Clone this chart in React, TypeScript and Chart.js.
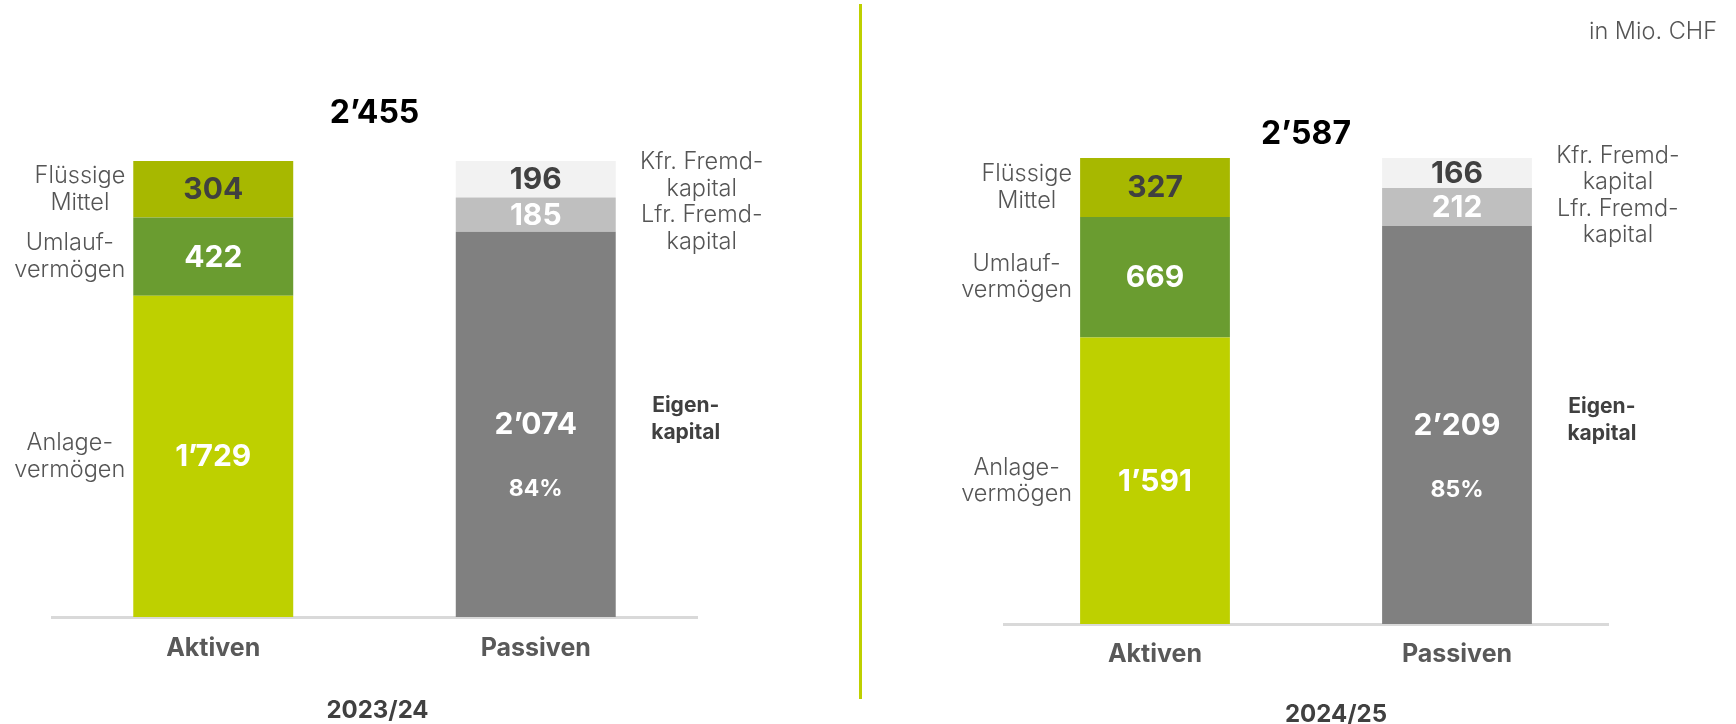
import React, { useEffect, useRef } from "react";
import { Chart, registerables } from "chart.js";
Chart.register(...registerables);

// ---- data ----
const categories = ["Aktiven", "Passiven"];
const years = ["2023/24", "2024/25"];
// 2023/24 (bottom -> top of the stack)
const layer1_2324 = [1729, 2074]; // Anlagevermögen / Eigenkapital
const layer2_2324 = [422, 185]; // Umlaufvermögen / Lfr. Fremdkapital
const layer3_2324 = [304, 196]; // Flüssige Mittel / Kfr. Fremdkapital
// 2024/25
const layer1_2425 = [1591, 2209];
const layer2_2425 = [669, 212];
const layer3_2425 = [327, 166];
const totals = [2455, 2587];
const aktivenLabels = [["Anlage-", "vermögen"], ["Umlauf-", "vermögen"], ["Flüssige", "Mittel"]];
const passivenLabels = [["Eigen-", "kapital"], ["Lfr. Fremd-", "kapital"], ["Kfr. Fremd-", "kapital"]];
const unitLabel = "in Mio. CHF";

// ---- styles ----
const FONT = "Inter";
const layerColors = [
  ["#bed000", "#808080"],
  ["#6a9c30", "#bfbfbf"],
  ["#a7b800", "#f2f2f2"],
];
const valueColors = ["#ffffff", "#ffffff", "#404040"];

function fmt(n: number): string {
  if (n >= 1000) return `${Math.floor(n / 1000)}\u2019${String(n % 1000).padStart(3, "0")}`;
  return String(n);
}

type Cfg = {
  total: number;
  totalOffset: number;
  unit: boolean;
  year: string;
  yearDx: number;
  yearY: number;
};

function makePlugin(cfg: Cfg) {
  return {
    id: "labels",
    afterDatasetsDraw(chart: any) {
      const ctx = chart.ctx as CanvasRenderingContext2D;
      ctx.save();
      ctx.textBaseline = "middle";
      const lh = 26.5;
      const drawBlock = (lines: string[], cx: number, cy: number, font: string, color: string, align: "center" | "right") => {
        ctx.font = font;
        ctx.fillStyle = color;
        ctx.textAlign = "center";
        let maxW = 0;
        lines.forEach((l) => (maxW = Math.max(maxW, ctx.measureText(l).width)));
        const x = align === "right" ? cx - maxW / 2 : cx;
        lines.forEach((l, k) => {
          ctx.fillText(l, x, cy + (k - (lines.length - 1) / 2) * lh);
        });
      };
      let barTop = Infinity;
      for (let i = 0; i < 3; i++) {
        const meta = chart.getDatasetMeta(i);
        const data = chart.data.datasets[i].data as number[];
        meta.data.forEach((el: any, j: number) => {
          const { x, y, base, width } = el.getProps(["x", "y", "base", "width"], true);
          const top = Math.min(y, base);
          barTop = Math.min(barTop, top);
          const c = (y + base) / 2;
          ctx.font = `700 30px ${FONT}`;
          ctx.fillStyle = valueColors[i];
          ctx.textAlign = "center";
          ctx.fillText(fmt(data[j]), x, c + 1);
          if (i === 0 && j === 1) {
            ctx.font = `700 23px ${FONT}`;
            ctx.fillStyle = "#ffffff";
            ctx.fillText(`${Math.round((data[j] / cfg.total) * 100)}%`, x, c + 65);
          }
          const light = `300 23.5px ${FONT}`;
          if (j === 0) {
            drawBlock(aktivenLabels[i], x - width / 2 - 8, c, light, "#555555", "right");
          } else {
            if (i === 0) {
              drawBlock(passivenLabels[0], x + width / 2 + 70, c - 5, `700 21px ${FONT}`, "#404040", "center");
            } else if (i === 2) {
              drawBlock(passivenLabels[2], x + width / 2 + 86, c - 4, light, "#555555", "center");
              drawBlock(passivenLabels[1], x + width / 2 + 86, c - 4 + 53, light, "#555555", "center");
            }
          }
        });
      }
      const area = chart.chartArea;
      const mid = (area.left + area.right) / 2;
      // total
      ctx.font = `700 32px ${FONT}`;
      ctx.fillStyle = "#000000";
      ctx.textAlign = "center";
      ctx.fillText(fmt(cfg.total), mid, barTop - cfg.totalOffset);
      // year
      ctx.font = `700 24px ${FONT}`;
      ctx.fillStyle = "#404040";
      ctx.fillText(cfg.year, mid + cfg.yearDx, cfg.yearY);
      if (cfg.unit) {
        ctx.font = `300 23.5px ${FONT}`;
        ctx.fillStyle = "#555555";
        ctx.textAlign = "right";
        ctx.fillText(unitLabel, chart.width - 19, 32);
      }
      ctx.restore();
    },
  };
}

function buildChart(
  canvas: HTMLCanvasElement,
  layers: number[][],
  total: number,
  padding: { left: number; right: number; top: number; bottom: number },
  tickPad: number,
  cfg: Cfg
) {
  return new Chart(canvas, {
    type: "bar",
    data: {
      labels: categories,
      datasets: layers.map((d, i) => ({
        data: d,
        backgroundColor: layerColors[i],
        borderWidth: 0,
        barPercentage: 0.496,
        categoryPercentage: 1,
      })),
    },
    options: {
      responsive: false,
      animation: false,
      events: [],
      layout: { padding },
      plugins: { legend: { display: false }, tooltip: { enabled: false } },
      scales: {
        x: {
          stacked: true,
          grid: { display: false, drawTicks: false },
          border: { display: true, color: "#d9d9d9", width: 3 },
          ticks: {
            color: "#595959",
            font: { family: FONT, weight: "bold", size: 25, lineHeight: 1.2 },
            padding: tickPad,
          },
        },
        y: { stacked: true, display: false, min: 0, max: total },
      },
    } as any,
    plugins: [makePlugin(cfg)],
  });
}

export default function App() {
  const ref1 = useRef<HTMLCanvasElement>(null);
  const ref2 = useRef<HTMLCanvasElement>(null);
  useEffect(() => {
    document.body.style.margin = "0";
    const c1 = buildChart(
      ref1.current!,
      [layer1_2324, layer2_2324, layer3_2324],
      totals[0],
      { left: 52, right: 163, top: 161, bottom: 45 },
      16,
      { total: totals[0], totalOffset: 48, unit: false, year: years[0], yearDx: 3, yearY: 711 }
    );
    const c2 = buildChart(
      ref2.current!,
      [layer1_2425, layer2_2425, layer3_2425],
      totals[1],
      { left: 144, right: 128, top: 158, bottom: 40 },
      15,
      { total: totals[1], totalOffset: 24, unit: true, year: years[1], yearDx: 30, yearY: 714.5 }
    );
    return () => {
      c1.destroy();
      c2.destroy();
    };
  }, []);
  return (
    <div style={{ position: "fixed", left: 0, top: 0, width: 1736, height: 724, overflow: "hidden", background: "#fff" }}>
      <canvas ref={ref1} width={860} height={724} style={{ position: "absolute", left: 0, top: 0, width: 860, height: 724 }} />
      <canvas ref={ref2} width={876} height={724} style={{ position: "absolute", left: 860, top: 0, width: 876, height: 724 }} />
      <div style={{ position: "absolute", left: 859, top: 4, width: 3, height: 695, background: "#bed000" }} />
    </div>
  );
}
